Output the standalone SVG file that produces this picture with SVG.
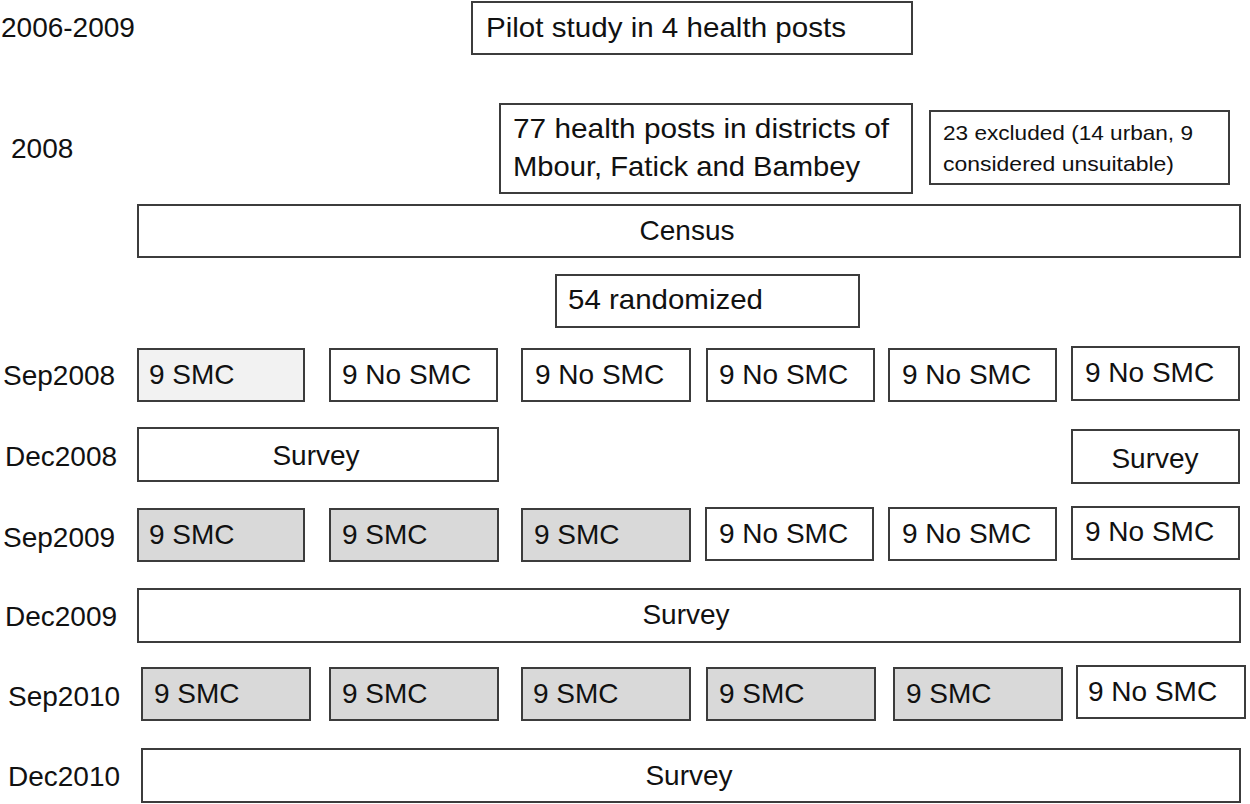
<svg xmlns="http://www.w3.org/2000/svg" width="1250" height="804" viewBox="0 0 1250 804">
<style>
  text { font-family: "Liberation Sans", Arial, sans-serif; font-size: 28px; fill: #111; }
  .lbl { font-size: 28px; }
  .small { font-size: 21px; }
  .mid { text-anchor: middle; }
  rect { stroke: #3c3c3c; stroke-width: 2; fill: #ffffff; }
  rect.light { fill: #f2f2f2; }
  rect.gray { fill: #d9d9d9; }
</style>
<rect x="0" y="0" width="1250" height="804" style="fill:#ffffff;stroke:none"/>

<g id="row-labels">
  <text class="lbl" x="1" y="37">2006-2009</text>
  <text class="lbl" x="11" y="158">2008</text>
  <text class="lbl" x="3" y="385">Sep2008</text>
  <text class="lbl" x="5" y="466">Dec2008</text>
  <text class="lbl" x="3" y="547">Sep2009</text>
  <text class="lbl" x="5" y="626">Dec2009</text>
  <text class="lbl" x="8" y="706">Sep2010</text>
  <text class="lbl" x="8" y="786">Dec2010</text>
</g>

<g id="pilot">
  <rect x="472" y="2" width="440" height="52"/>
  <text x="486" y="37" textLength="360" lengthAdjust="spacingAndGlyphs">Pilot study in 4 health posts</text>
</g>

<g id="districts">
  <rect x="500" y="104" width="412" height="89"/>
  <text x="513" y="138" textLength="376" lengthAdjust="spacingAndGlyphs">77 health posts in districts of</text>
  <text x="513" y="176" textLength="347" lengthAdjust="spacingAndGlyphs">Mbour, Fatick and Bambey</text>
</g>

<g id="excluded">
  <rect x="930" y="111" width="299" height="73"/>
  <text class="small" x="943" y="140" textLength="250" lengthAdjust="spacingAndGlyphs">23 excluded (14 urban, 9</text>
  <text class="small" x="943" y="171" textLength="231" lengthAdjust="spacingAndGlyphs">considered unsuitable)</text>
</g>

<g id="census">
  <rect x="138" y="205" width="1102" height="52"/>
  <text class="mid" x="687" y="240">Census</text>
</g>

<g id="randomized">
  <rect x="556" y="275" width="303" height="52"/>
  <text x="568" y="309" textLength="195" lengthAdjust="spacingAndGlyphs">54 randomized</text>
</g>

<g id="sep2008-1"><rect class="light" x="138" y="349" width="166" height="52"/><text x="149" y="384">9 SMC</text></g>
<g id="sep2008-2"><rect x="330" y="349" width="167" height="52"/><text x="342" y="384">9 No SMC</text></g>
<g id="sep2008-3"><rect x="522" y="349" width="168" height="52"/><text x="535" y="384">9 No SMC</text></g>
<g id="sep2008-4"><rect x="707" y="349" width="167" height="52"/><text x="719" y="384">9 No SMC</text></g>
<g id="sep2008-5"><rect x="889" y="349" width="167" height="52"/><text x="902" y="384">9 No SMC</text></g>
<g id="sep2008-6"><rect x="1072" y="347" width="167" height="53"/><text x="1085" y="382">9 No SMC</text></g>

<g id="dec2008-survey-a"><rect x="138" y="428" width="360" height="53"/><text class="mid" x="316" y="465">Survey</text></g>
<g id="dec2008-survey-b"><rect x="1072" y="430" width="167" height="53"/><text class="mid" x="1155" y="468">Survey</text></g>

<g id="sep2009-1"><rect class="gray" x="138" y="509" width="166" height="52"/><text x="149" y="544">9 SMC</text></g>
<g id="sep2009-2"><rect class="gray" x="330" y="509" width="168" height="52"/><text x="342" y="544">9 SMC</text></g>
<g id="sep2009-3"><rect class="gray" x="522" y="509" width="168" height="52"/><text x="534" y="544">9 SMC</text></g>
<g id="sep2009-4"><rect x="706" y="508" width="167" height="52"/><text x="719" y="543">9 No SMC</text></g>
<g id="sep2009-5"><rect x="889" y="508" width="167" height="52"/><text x="902" y="543">9 No SMC</text></g>
<g id="sep2009-6"><rect x="1072" y="507" width="167" height="52"/><text x="1085" y="541">9 No SMC</text></g>

<g id="dec2009-survey"><rect x="138" y="589" width="1102" height="53"/><text class="mid" x="686" y="624">Survey</text></g>

<g id="sep2010-1"><rect class="gray" x="142" y="668" width="168" height="52"/><text x="154" y="703">9 SMC</text></g>
<g id="sep2010-2"><rect class="gray" x="330" y="668" width="168" height="52"/><text x="342" y="703">9 SMC</text></g>
<g id="sep2010-3"><rect class="gray" x="522" y="668" width="168" height="52"/><text x="533" y="703">9 SMC</text></g>
<g id="sep2010-4"><rect class="gray" x="707" y="668" width="168" height="52"/><text x="719" y="703">9 SMC</text></g>
<g id="sep2010-5"><rect class="gray" x="894" y="668" width="168" height="52"/><text x="906" y="703">9 SMC</text></g>
<g id="sep2010-6"><rect x="1077" y="666" width="168" height="52"/><text x="1088" y="701">9 No SMC</text></g>

<g id="dec2010-survey"><rect x="142" y="749" width="1098" height="53"/><text class="mid" x="689" y="785">Survey</text></g>
</svg>
